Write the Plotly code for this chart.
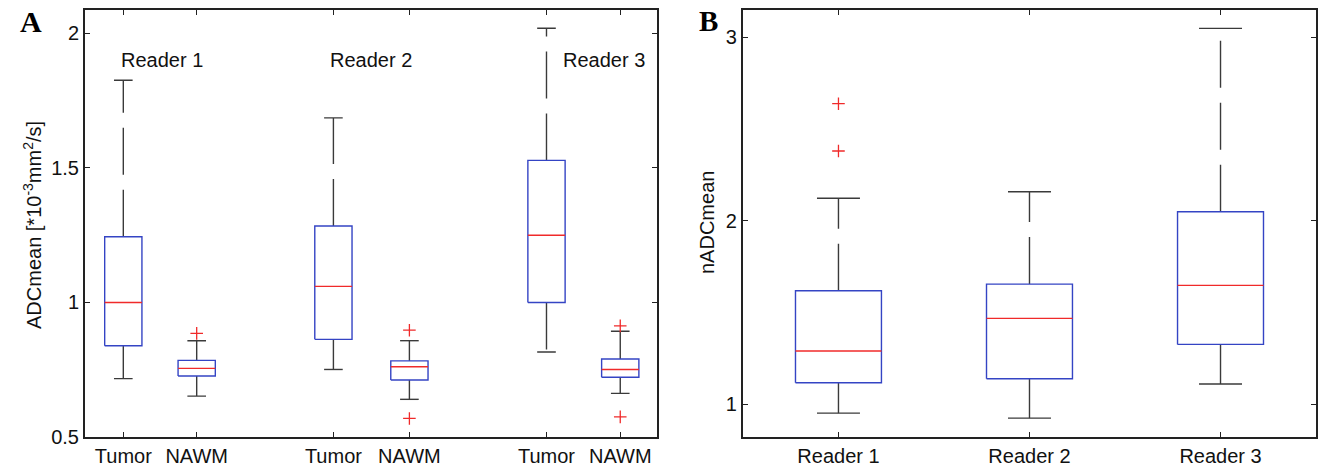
import plotly.graph_objects as go

# ---------------- Data ----------------
# Panel A: ADCmean, Tumor / NAWM for three readers
a_labels = ["Tumor", "NAWM", "Tumor", "NAWM", "Tumor", "NAWM"]
a_pos = [1.0, 1.985, 3.82, 4.84, 6.68, 7.67]
a_lower = [0.717, 0.652, 0.751, 0.640, 0.816, 0.662]
a_q1 = [0.839, 0.727, 0.863, 0.712, 1.000, 0.722]
a_med = [1.000, 0.755, 1.060, 0.761, 1.250, 0.751]
a_q3 = [1.244, 0.785, 1.284, 0.783, 1.528, 0.790]
a_upper = [1.826, 0.858, 1.686, 0.858, 2.019, 0.893]
a_outliers = [[], [0.885], [], [0.897, 0.569], [], [0.913, 0.575]]
a_groups = ["Reader 1", "Reader 2", "Reader 3"]
a_group_x = [1.52, 4.33, 7.45]
a_group_y = 1.90

# Panel B: nADCmean per reader
b_labels = ["Reader 1", "Reader 2", "Reader 3"]
b_pos = [1, 2, 3]
b_lower = [0.950, 0.923, 1.109]
b_q1 = [1.116, 1.138, 1.325]
b_med = [1.289, 1.467, 1.647]
b_q3 = [1.618, 1.654, 2.049]
b_upper = [2.122, 2.158, 3.049]
b_outliers = [[2.638, 2.380], [], []]

# ---------------- Styles ----------------
BLUE = "#3444c4"
RED = "#f02a2a"
WHISK = "#3a3a3a"
AXIS = "#222222"
FONT = "Liberation Sans, Arial, sans-serif"

fig = go.Figure()


def add_boxes(pos, lower, q1, med, q3, upper, outliers, width, xa, ya):
    for i, p in enumerate(pos):
        hw = width / 2
        cw = width / 4
        common = dict(xaxis=xa, yaxis=ya, showlegend=False, hoverinfo="skip", mode="lines")
        # whiskers (dashed, drawn from box outward)
        fig.add_trace(go.Scatter(x=[p, p], y=[q3[i], upper[i]],
                                 line=dict(color=WHISK, width=1.4, dash="47px,15px"), **common))
        fig.add_trace(go.Scatter(x=[p, p], y=[q1[i], lower[i]],
                                 line=dict(color=WHISK, width=1.4, dash="47px,15px"), **common))
        # caps
        fig.add_trace(go.Scatter(x=[p - cw, p + cw, None, p - cw, p + cw],
                                 y=[upper[i], upper[i], None, lower[i], lower[i]],
                                 line=dict(color=WHISK, width=1.4), **common))
        # box
        fig.add_trace(go.Scatter(x=[p - hw, p + hw, p + hw, p - hw, p - hw],
                                 y=[q1[i], q1[i], q3[i], q3[i], q1[i]],
                                 line=dict(color=BLUE, width=1.4), **common))
        # median
        fig.add_trace(go.Scatter(x=[p - hw, p + hw], y=[med[i], med[i]],
                                 line=dict(color=RED, width=1.4), **common))
        # outliers
        if outliers[i]:
            fig.add_trace(go.Scatter(x=[p] * len(outliers[i]), y=outliers[i], mode="markers",
                                     marker=dict(symbol="cross-thin", size=9,
                                                 line=dict(color=RED, width=1.3)),
                                     xaxis=xa, yaxis=ya, showlegend=False, hoverinfo="skip"))


add_boxes(a_pos, a_lower, a_q1, a_med, a_q3, a_upper, a_outliers, 0.5, "x", "y")
add_boxes(b_pos, b_lower, b_q1, b_med, b_q3, b_upper, b_outliers, 0.45, "x2", "y2")

axis_common = dict(
    showline=True, linecolor=AXIS, linewidth=2, mirror="allticks",
    ticks="inside", ticklen=5, tickwidth=1.2, tickcolor=AXIS,
    showgrid=False, zeroline=False, automargin=False, ticklabelstandoff=0,
    tickfont=dict(family=FONT, size=20, color="#111111"),
)

fig.update_layout(
    width=1318, height=465,
    margin=dict(l=0, r=0, t=0, b=0, pad=0, autoexpand=False),
    paper_bgcolor="white", plot_bgcolor="white",
    xaxis=dict(domain=[0.0645, 0.4983], range=[0.486, 8.16],
               tickvals=a_pos, ticktext=a_labels, anchor="y", **axis_common),
    yaxis=dict(domain=[0.0602, 0.9785], range=[0.5, 2.087],
               tickvals=[0.5, 1, 1.5, 2], ticktext=["0.5", "1", "1.5", "2"],
               anchor="x", **axis_common),
    xaxis2=dict(domain=[0.5637, 0.9985], range=[0.5, 3.5],
                tickvals=b_pos, ticktext=b_labels, anchor="y2", **axis_common),
    yaxis2=dict(domain=[0.0602, 0.9785], range=[0.82, 3.149],
                tickvals=[1, 2, 3], ticktext=["1", "2", "3"],
                anchor="x2", **axis_common),
)

annotations = []
for g, gx in zip(a_groups, a_group_x):
    annotations.append(dict(x=gx, y=a_group_y, xref="x", yref="y", text=g, showarrow=False,
                            xanchor="center", yanchor="middle",
                            font=dict(family=FONT, size=20, color="#111111")))

annotations += [
    dict(x=32 / 1318, y=1 - 225 / 465, xref="paper", yref="paper", textangle=-90, showarrow=False,
         xanchor="center", yanchor="middle",
         text="ADCmean [*10<sup>-3</sup>mm<sup>2</sup>/s]",
         font=dict(family=FONT, size=20, color="#111111")),
    dict(x=707 / 1318, y=1 - 223 / 465, xref="paper", yref="paper", textangle=-90, showarrow=False,
         xanchor="center", yanchor="middle",
         text="nADCmean", font=dict(family=FONT, size=20, color="#111111")),
    dict(x=31 / 1318, y=1 - 21 / 465, xref="paper", yref="paper", showarrow=False,
         xanchor="center", yanchor="middle",
         text="<b>A</b>", font=dict(family="Liberation Serif, Times New Roman, serif", size=30, color="black")),
    dict(x=708 / 1318, y=1 - 21 / 465, xref="paper", yref="paper", showarrow=False,
         xanchor="center", yanchor="middle",
         text="<b>B</b>", font=dict(family="Liberation Serif, Times New Roman, serif", size=29, color="black")),
]
fig.update_layout(annotations=annotations)

fig.write_html("out.html", config={"displayModeBar": False},
               post_script="document.body.style.margin='0';document.body.style.overflow='hidden';")
